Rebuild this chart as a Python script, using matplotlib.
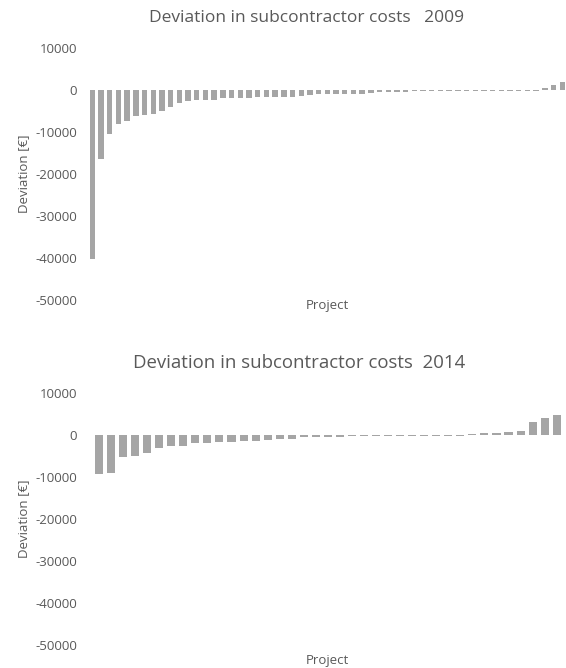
import matplotlib.pyplot as plt

plt.rcParams['font.family'] = ['Open Sans', 'DejaVu Sans']

# 2009 deviations per project (sorted)
dev_2009 = [-40300, -16400, -10400, -8100, -7450, -6100, -5950, -5700, -4900, -3950,
            -3000, -2500, -2400, -2300, -2300, -2000, -2000, -2000, -2000, -1600,
            -1600, -1600, -1550, -1550, -1500, -1100, -1000, -1000, -1000, -950,
            -950, -900, -600, -500, -500, -500, -500, -300, -300, -300,
            -300, -250, -250, -250, -250, -250, -250, -250, -250, -150,
            -150, -150, 550, 1100, 1800]

# 2014 deviations per project (sorted)
dev_2014 = [-9300, -9100, -5300, -5100, -4300, -3050, -2700, -2700, -1950, -1950,
            -1700, -1700, -1400, -1400, -1150, -950, -950, -500, -500, -500,
            -450, -300, -300, -300, -300, -300, -200, -200, -200, -200,
            -200, 300, 500, 500, 700, 900, 3200, 4000, 4800]

y_ticks = [10000, 0, -10000, -20000, -30000, -40000, -50000]
titles = ["Deviation in subcontractor costs   2009", "Deviation in subcontractor costs  2014"]

bar_color = '#A5A5A5'
text_color = '#595959'

fig = plt.figure(figsize=(5.66, 6.68), dpi=100)
ax1 = fig.add_axes([0.1555, 0.5509, 0.8456, 0.3772])
ax2 = fig.add_axes([0.1643, 0.0344, 0.8299, 0.3772])

setups = [
    (ax1, dev_2009, titles[0], 0.62, 0.4555, 8, -0.138, -0.02, 12.5),
    (ax2, dev_2014, titles[1], 0.67, 0.4386, 11.5, -0.152, -0.06, 13.4),
]

for ax, data, title, width, tx, pad, ylab_x, xlab_y, tsize in setups:
    n = len(data)
    ax.bar(range(n), data, width=width, color=bar_color)
    ax.set_xlim(-0.5, n - 0.5)
    ax.set_ylim(-50000, 10000)
    ax.set_yticks(y_ticks)
    ax.set_yticklabels([str(t) for t in y_ticks])
    ax.set_xticks([])
    ax.tick_params(axis='y', length=0, pad=pad, labelsize=9.5, labelcolor=text_color)
    for s in ax.spines.values():
        s.set_visible(False)
    ax.set_ylabel("Deviation [€]", fontsize=9.5, color=text_color, va='center')
    ax.yaxis.set_label_coords(ylab_x + 0.004, 0.5)
    ax.set_xlabel("Project", fontsize=9.5, color=text_color, va='center')
    ax.xaxis.set_label_coords(0.4994, xlab_y)
    ax.set_title(title, fontsize=tsize, color=text_color, x=tx, y=1.119, va='center', pad=0)

plt.savefig("out.png", dpi=100)
